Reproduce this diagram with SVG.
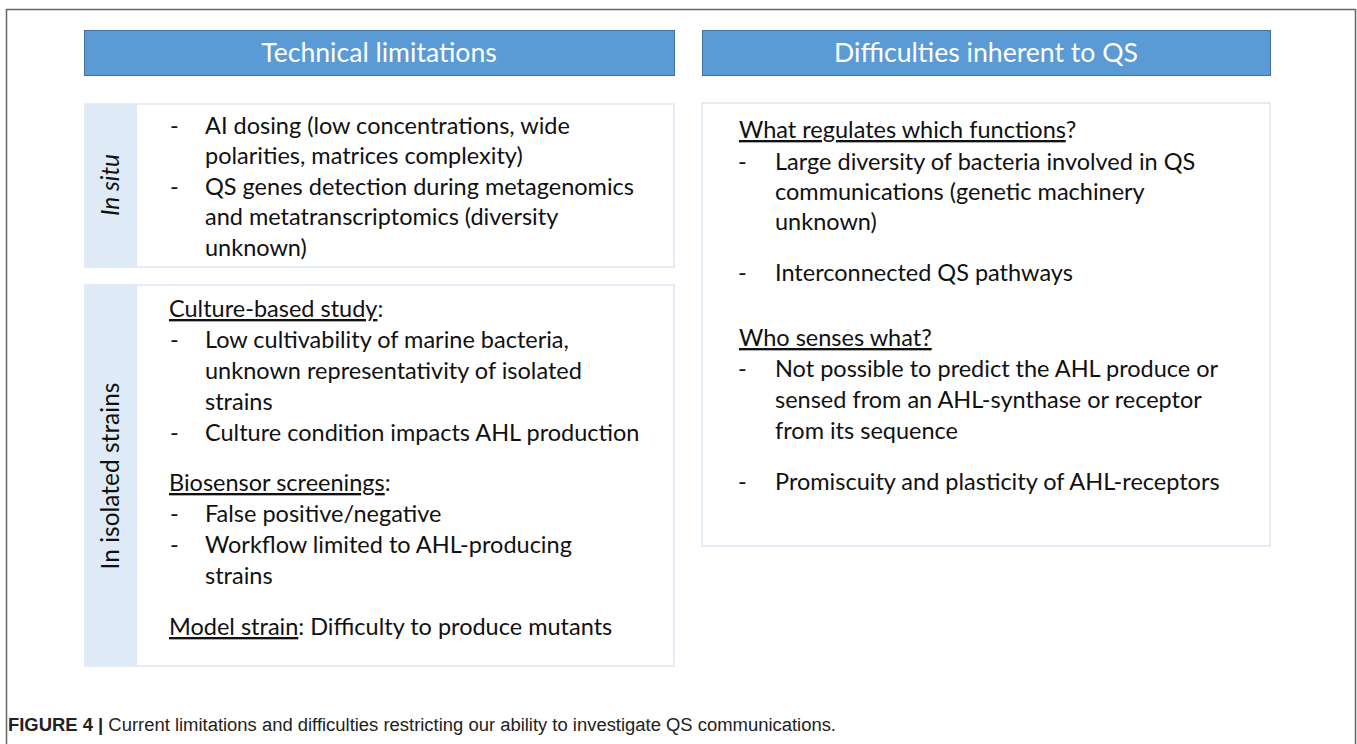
<svg xmlns="http://www.w3.org/2000/svg" width="1357" height="744" viewBox="0 0 1357 744">
<style>
.hdr{fill:#5B9BD5;stroke:#41719C;stroke-width:1}
.ht{font-family:Lato,"Open Sans",sans-serif;font-size:26.6px;fill:#fff;text-anchor:middle}
.side{fill:#DEEAF6}
.box{fill:#fff;stroke:#DCE6F2;stroke-width:1.5}
.t{font-family:Lato,"Open Sans",sans-serif;font-size:23.5px;fill:#111}
.u{text-decoration:underline}
.rl{font-family:Lato,"Open Sans",sans-serif;font-size:24.5px;fill:#111;text-anchor:middle}
.cap{font-family:"Liberation Sans",Arial,sans-serif;font-size:18px;fill:#222}
</style>
<rect x="0" y="0" width="1357" height="744" fill="#fff"/>
<path d="M6.5 760 V9.5 H1355.5 V760" fill="none" stroke="#666" stroke-width="1.5"/>

<g id="hdr-technical">
<rect class="hdr" x="84.5" y="30.5" width="590" height="45"/>
<text class="ht" x="379" y="62">Technical limitations</text>
</g>
<g id="hdr-difficulties">
<rect class="hdr" x="702.5" y="30.5" width="568" height="45"/>
<text class="ht" x="986" y="62">Difficulties inherent to QS</text>
</g>

<g id="insitu">
<rect class="box" x="85" y="104" width="589" height="163"/>
<rect class="side" x="85" y="104" width="52" height="163"/>
<text class="rl" transform="translate(119,185) rotate(-90)" font-style="italic">In situ</text>
<text class="t" x="170" y="134">-</text><text class="t" x="205" y="134">AI dosing (low concentrations, wide</text>
<text class="t" x="205" y="164">polarities, matrices complexity)</text>
<text class="t" x="170" y="195">-</text><text class="t" x="205" y="195">QS genes detection during metagenomics</text>
<text class="t" x="205" y="225">and metatranscriptomics (diversity</text>
<text class="t" x="205" y="256">unknown)</text>
</g>

<g id="isolated">
<rect class="box" x="85" y="285" width="589" height="381"/>
<rect class="side" x="85" y="285" width="52" height="381"/>
<text class="rl" transform="translate(119,476) rotate(-90)">In isolated strains</text>
<text class="t" x="169" y="317"><tspan class="u">Culture-based study</tspan>:</text>
<text class="t" x="170" y="348">-</text><text class="t" x="205" y="348">Low cultivability of marine bacteria,</text>
<text class="t" x="205" y="379">unknown representativity of isolated</text>
<text class="t" x="205" y="410">strains</text>
<text class="t" x="170" y="441">-</text><text class="t" x="205" y="441">Culture condition impacts AHL production</text>
<text class="t" x="169" y="491"><tspan class="u">Biosensor screenings</tspan>:</text>
<text class="t" x="170" y="522">-</text><text class="t" x="205" y="522">False positive/negative</text>
<text class="t" x="170" y="553">-</text><text class="t" x="205" y="553">Workflow limited to AHL-producing</text>
<text class="t" x="205" y="584">strains</text>
<text class="t" x="169" y="635"><tspan class="u">Model strain</tspan>: Difficulty to produce mutants</text>
</g>

<g id="difficulties">
<rect class="box" x="702" y="103" width="568" height="443"/>
<text class="t" x="739" y="138"><tspan class="u">What regulates which functions</tspan>?</text>
<text class="t" x="738" y="170">-</text><text class="t" x="775" y="170">Large diversity of bacteria involved in QS</text>
<text class="t" x="775" y="200">communications (genetic machinery</text>
<text class="t" x="775" y="230">unknown)</text>
<text class="t" x="738" y="281">-</text><text class="t" x="775" y="281">Interconnected QS pathways</text>
<text class="t" x="739" y="346"><tspan class="u">Who senses what?</tspan></text>
<text class="t" x="738" y="377">-</text><text class="t" x="775" y="377">Not possible to predict the AHL produce or</text>
<text class="t" x="775" y="408">sensed from an AHL-synthase or receptor</text>
<text class="t" x="775" y="439">from its sequence</text>
<text class="t" x="738" y="490">-</text><text class="t" x="775" y="490">Promiscuity and plasticity of AHL-receptors</text>
</g>

<g id="caption">
<text class="cap" x="8" y="731" textLength="828" lengthAdjust="spacingAndGlyphs"><tspan font-weight="bold">FIGURE 4 |</tspan> Current limitations and difficulties restricting our ability to investigate QS communications.</text>
</g>
</svg>
